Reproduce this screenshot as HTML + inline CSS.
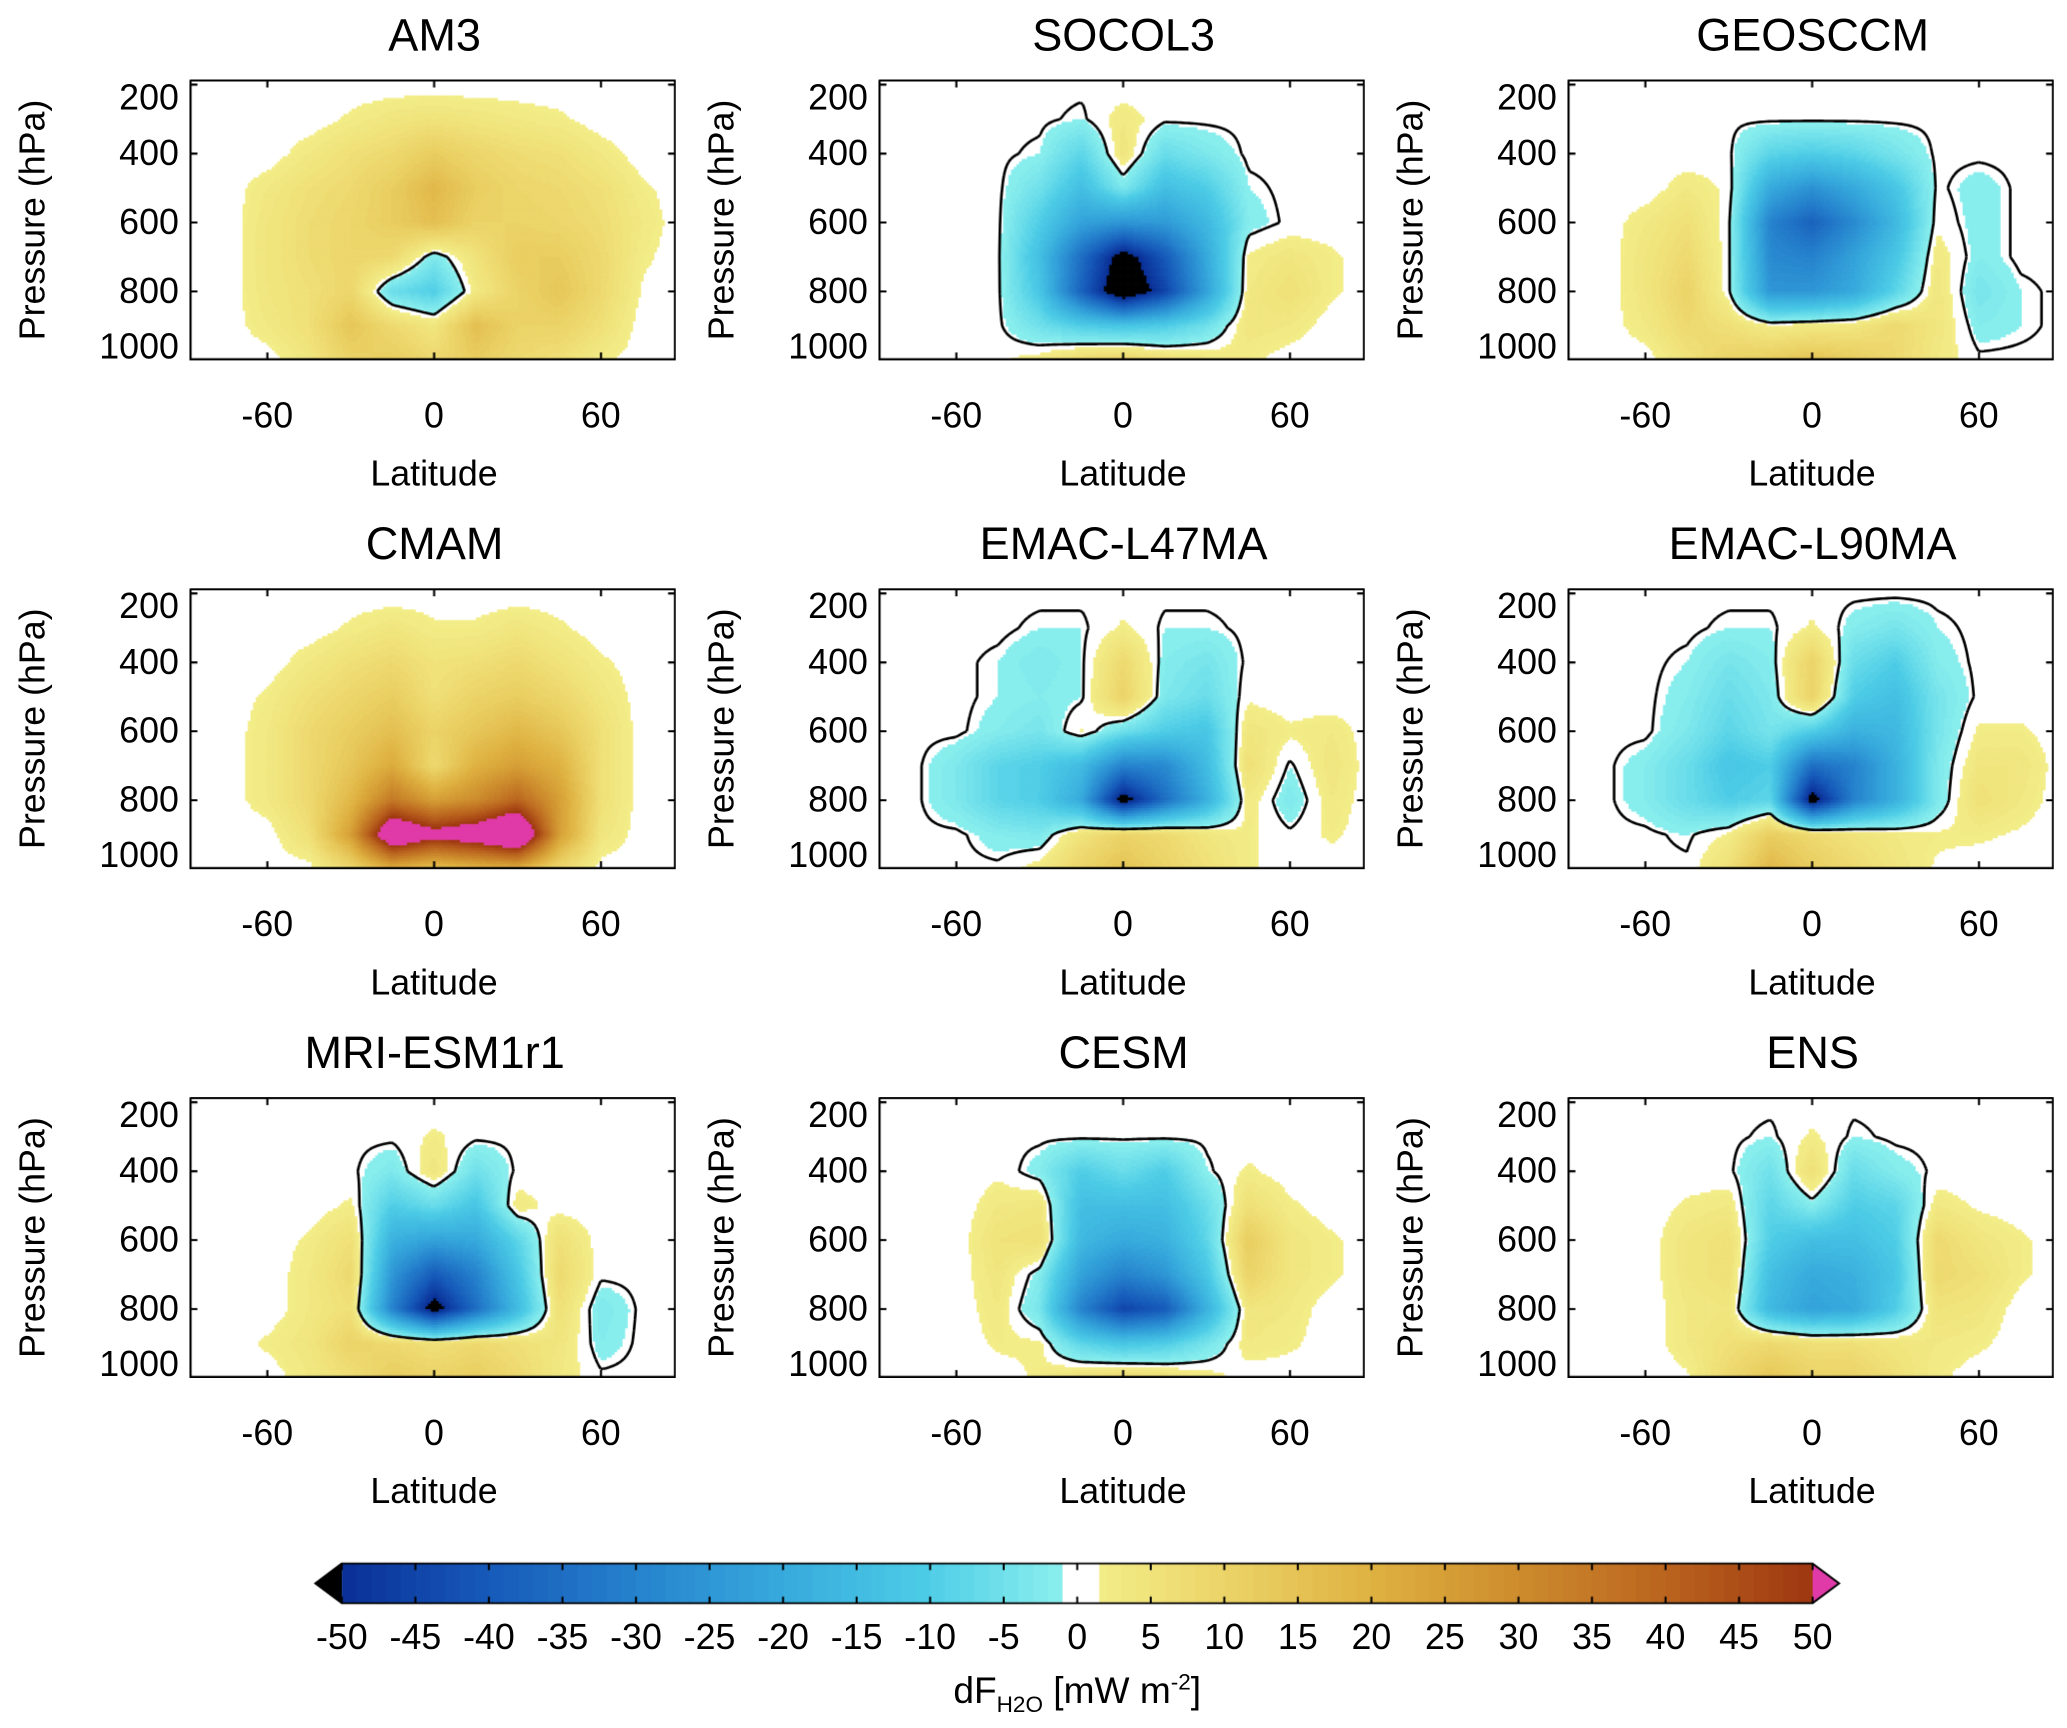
<!DOCTYPE html>
<html><head><meta charset="utf-8">
<style>
html,body{margin:0;padding:0;background:#fff;}
#root{position:absolute;left:0;top:0;width:1560px;height:1304px;transform:scale(1.325);transform-origin:0 0;font-family:"Liberation Sans",sans-serif;color:#000;}
.t{position:absolute;white-space:nowrap;line-height:1;}
canvas{position:absolute;}
</style></head><body>
<div id="root"></div>
<script>
// Grid definitions
const lats = [-90,-75,-60,-45,-30,-15,0,15,30,45,60,75,90];
const levels = [200,300,400,500,600,700,800,900,1000];
const xTicks = [-60,0,60];
const yTicks = [200,400,600,800,1000];
const cbTicks = [-50,-45,-40,-35,-30,-25,-20,-15,-10,-5,0,5,10,15,20,25,30,35,40,45,50];
const panelNames = ["AM3","SOCOL3","GEOSCCM","CMAM","EMAC-L47MA","EMAC-L90MA","MRI-ESM1r1","CESM","ENS"];
const fieldAM3 = [
[0,0,0,0,0,0,0,0,0,0,0,0,0],
[0,0,0,0,2,4,5,4,3,2,0,0,0],
[0,0,0,3,6,8,12,9,7,6,3,0,0],
[0,0,3,6,8,12,18,12,9,8,6,2,0],
[0,0,4,7,9,12,16,10,10,9,7,3,0],
[0,0,4,7,9,8,-3,5,12,12,8,2,0],
[0,0,4,6,9,-6,-10,3,10,14,8,1,0],
[0,0,3,6,14,8,4,16,10,10,6,0,0],
[0,0,0,4,10,12,8,12,8,6,2,0,0]];
const fieldSOCOL3 = [
[0,0,0,0,0,0,0,0,0,0,0,0,0],
[0,0,0,0,0,-1,3,0,0,0,0,0,0],
[0,0,0,0,-1,-8,4,-6,-3,0,0,0,0],
[0,0,0,0,-5,-14,-3,-14,-10,-1,0,0,0],
[0,0,0,0,-10,-22,-25,-24,-16,-2,0,0,0],
[0,0,0,0,-14,-35,-55,-40,-20,2,4,2,0],
[0,0,0,0,-12,-38,-60,-45,-22,3,6,2,0],
[0,0,0,0,-5,-10,-12,-10,-5,4,3,0,0],
[0,0,0,1,3,8,10,6,4,2,0,0,0]];
const fieldGEOSCCM = [
[0,0,0,0,0,0,0,0,0,0,0,0,0],
[0,0,0,0,0,0,0,0,0,0,0,0,0],
[0,0,0,0,0,-8,-10,-8,-4,0,0,0,0],
[0,0,0,3,1,-20,-26,-20,-12,0,-2,0,0],
[0,0,3,6,0,-30,-38,-28,-16,1,-2,0,0],
[0,0,4,8,0,-28,-30,-22,-12,3,-2,0,0],
[0,0,4,10,0,-25,-25,-20,-8,4,-4,-1,0],
[0,0,3,8,6,2,3,4,8,4,-2,-1,0],
[0,0,0,5,10,12,15,12,8,3,0,0,0]];
const fieldCMAM = [
[0,0,0,0,0,0,0,0,0,0,0,0,0],
[0,0,0,0,2,4,2,2,4,2,0,0,0],
[0,0,0,3,6,8,5,6,8,5,2,0,0],
[0,0,2,6,9,12,6,10,12,9,4,0,0],
[0,0,3,8,12,16,10,14,18,14,6,0,0],
[0,0,3,8,14,22,8,20,25,20,6,0,0],
[0,0,3,8,18,35,25,30,40,25,6,0,0],
[0,0,0,6,25,65,55,60,70,25,4,0,0],
[0,0,0,0,8,20,14,18,20,8,0,0,0]];
const fieldL47 = [
[0,0,0,0,0,0,0,0,0,0,0,0,0],
[0,0,0,0,-1,-1,2,-1,-1,0,0,0,0],
[0,0,0,-1,-3,-1,8,-2,-4,0,0,0,0],
[0,0,0,-1,-2,-1,10,-3,-6,1,0,0,0],
[0,0,0,-2,-4,2,-5,-10,-12,4,2,3,0],
[0,0,-3,-8,-10,-15,-30,-28,-15,6,-1,4,0],
[0,0,-3,-8,-10,-20,-55,-35,-18,3,-3,3,0],
[0,0,0,-2,-3,5,10,8,4,2,0,2,0],
[0,0,0,0,3,10,15,10,6,2,0,0,0]];
const fieldL90 = [
[0,0,0,0,0,0,0,0,0,0,0,0,0],
[0,0,0,0,-1,-1,2,-2,-4,-1,0,0,0],
[0,0,0,-1,-4,-2,10,-6,-10,-2,0,0,0],
[0,0,0,-2,-6,-3,10,-10,-14,-4,0,0,0],
[0,0,0,-3,-8,-4,-10,-18,-16,-4,2,2,0],
[0,0,-2,-6,-12,-10,-35,-30,-18,-3,4,4,0],
[0,0,-2,-6,-10,-8,-55,-30,-18,-3,6,3,0],
[0,0,0,-1,2,12,8,5,3,2,2,1,0],
[0,0,0,0,6,18,12,8,4,1,0,0,0]];
const fieldMRI = [
[0,0,0,0,0,0,0,0,0,0,0,0,0],
[0,0,0,0,0,0,2,0,0,0,0,0,0],
[0,0,0,0,0,-3,4,-5,0,0,0,0,0],
[0,0,0,0,2,-10,-6,-12,3,0,0,0,0],
[0,0,0,2,6,-18,-22,-20,-8,6,0,0,0],
[0,0,0,3,8,-25,-40,-30,-12,8,0,0,0],
[0,0,0,3,6,-30,-55,-35,-15,6,-3,0,0],
[0,0,2,4,10,8,6,8,6,4,-2,0,0],
[0,0,0,3,6,12,10,12,8,3,0,0,0]];
const fieldCESM = [
[0,0,0,0,0,0,0,0,0,0,0,0,0],
[0,0,0,0,0,0,0,0,0,0,0,0,0],
[0,0,0,1,-2,-10,-6,-10,-1,2,0,0,0],
[0,0,0,3,4,-14,-14,-14,-6,6,2,0,0],
[0,0,0,5,6,-16,-20,-18,-8,12,4,2,0],
[0,0,0,4,-2,-22,-30,-25,-12,10,4,2,0],
[0,0,0,3,-4,-30,-45,-40,-18,4,3,0,0],
[0,0,0,2,2,-8,-12,-10,-4,3,2,0,0],
[0,0,0,0,2,6,8,6,3,0,0,0,0]];
const fieldENS = [
[0,0,0,0,0,0,0,0,0,0,0,0,0],
[0,0,0,0,0,-1,2,-1,0,0,0,0,0],
[0,0,0,0,0,-5,6,-6,-2,0,0,0,0],
[0,0,0,2,3,-8,-2,-10,-8,3,1,0,0],
[0,0,0,4,6,-10,-14,-14,-10,8,4,2,0],
[0,0,0,4,6,-14,-20,-18,-12,8,6,2,0],
[0,0,0,3,4,-16,-22,-20,-10,5,4,0,0],
[0,0,0,3,6,8,6,6,4,3,2,0,0],
[0,0,0,1,8,14,10,10,6,2,0,0,0]];
const fields = [fieldAM3,fieldSOCOL3,fieldGEOSCCM,fieldCMAM,fieldL47,fieldL90,fieldMRI,fieldCESM,fieldENS];

const S = 1.325;
const root = document.getElementById('root');
const W = 367, H = 212, PTOP = 185, LATMIN = -88, LATMAX = 87;
function xScale(lat){ return (lat-LATMIN)/(LATMAX-LATMIN)*W; }
function yScale(p){ return (p-PTOP)/(1000-PTOP)*H; }

const negStops = ['#8ff2ee','#4ccbe6','#36a8dc','#2580cc','#1658b8','#0a2d94'];
const posStops = ['#f4f08c','#ebd266','#deb040','#cc8a2c','#b9621e','#9c3410'];
function hex(h){return [parseInt(h.substr(1,2),16),parseInt(h.substr(3,2),16),parseInt(h.substr(5,2),16)];}
function ramp(stops,t){
  t=Math.max(0,Math.min(1,t)); const n=stops.length-1; const i=Math.min(n-1,Math.floor(t*n)); const f=t*n-i;
  const a=hex(stops[i]),b=hex(stops[i+1]);
  return 'rgb('+a.map((v,k)=>Math.round(v+(b[k]-v)*f)).join(',')+')';
}
function color(v){
  if(v<-50) return '#000';
  if(v>50) return '#e03aa8';
  if(v>=-1 && v<1.5) return null;
  if(v<0) return ramp(negStops,(Math.floor(-v))/50);
  return ramp(posStops,(Math.floor(v))/50);
}
function sample(F,lat,p){
  let pi=(p-200)/100; pi=Math.max(0,Math.min(levels.length-1,pi));
  let li=(lat-lats[0])/15; li=Math.max(0,Math.min(lats.length-1,li));
  const i0=Math.min(levels.length-2,Math.floor(pi)), j0=Math.min(lats.length-2,Math.floor(li));
  const fy=pi-i0, fx=li-j0;
  const a=F[i0][j0],b=F[i0][j0+1],c=F[i0+1][j0],d=F[i0+1][j0+1];
  return a*(1-fx)*(1-fy)+b*fx*(1-fy)+c*(1-fx)*fy+d*fx*fy;
}
function addText(txt,x,y,size,anchor,name,rot){
  const d=document.createElement('div'); d.className='t'; d.textContent=txt;
  d.style.fontSize=size+'px';
  
  
  let tx = anchor==='middle'?'-50%':(anchor==='end'?'-100%':'0');
  d.style.left=x+'px'; d.style.top=y+'px';
  d.style.transform='translate('+tx+',-50%)';
  if(rot){d.style.transform='translate(-50%,-50%) rotate(-90deg)';}
  root.appendChild(d); return d;
}

panelNames.forEach((name,k)=>{
  const c=k%3, r=Math.floor(k/3);
  const bx=143+520*c, by=60+384*r;
  const F=fields[k];
  const cv=document.createElement('canvas');
  
  
  cv.width=Math.round(W*S); cv.height=Math.round(H*S);
  cv.style.left=bx+'px'; cv.style.top=by+'px'; cv.style.width=W+'px'; cv.style.height=H+'px';
  root.appendChild(cv);
  const ctx=cv.getContext('2d'); ctx.scale(S,S);
  const st=2; const nx=Math.ceil(W/st)+1, ny=Math.ceil(H/st)+1;
  const G=[];
  for(let j=0;j<ny;j++){const row=[];for(let i=0;i<nx;i++){
    const lat=LATMIN+(i*st)/W*(LATMAX-LATMIN); const p=PTOP+(j*st)/H*(1000-PTOP);
    row.push(sample(F,lat,p));} G.push(row);}
  for(let j=0;j<ny-1;j++)for(let i=0;i<nx-1;i++){
    const v=(G[j][i]+G[j][i+1]+G[j+1][i]+G[j+1][i+1])/4; const col=color(v);
    if(col){ctx.fillStyle=col;ctx.fillRect(i*st,j*st,st+0.6,st+0.6);}
  }
  const L=-0.5; ctx.strokeStyle='#000'; ctx.lineWidth=2; ctx.lineJoin='round'; ctx.beginPath();
  const interp=(x1,y1,v1,x2,y2,v2)=>{const t=(L-v1)/(v2-v1);return [x1+(x2-x1)*t,y1+(y2-y1)*t];};
  for(let j=0;j<ny-1;j++)for(let i=0;i<nx-1;i++){
    const x=i*st,y=j*st; const a=G[j][i],b=G[j][i+1],cc=G[j+1][i+1],d=G[j+1][i];
    const pts=[];
    if((a<L)!==(b<L)) pts.push(interp(x,y,a,x+st,y,b));
    if((b<L)!==(cc<L)) pts.push(interp(x+st,y,b,x+st,y+st,cc));
    if((cc<L)!==(d<L)) pts.push(interp(x+st,y+st,cc,x,y+st,d));
    if((d<L)!==(a<L)) pts.push(interp(x,y+st,d,x,y,a));
    for(let q=0;q+1<pts.length;q+=2){ctx.moveTo(pts[q][0],pts[q][1]);ctx.lineTo(pts[q+1][0],pts[q+1][1]);}
  }
  ctx.stroke();
  ctx.lineWidth=1.6; ctx.strokeRect(0.8,0.8,W-1.6,H-1.6);
  ctx.beginPath();
  xTicks.forEach(t=>{const x=xScale(t);ctx.moveTo(x,H);ctx.lineTo(x,H-6);ctx.moveTo(x,0);ctx.lineTo(x,6);});
  yTicks.forEach(t=>{const y=yScale(t);ctx.moveTo(0,y);ctx.lineTo(6,y);ctx.moveTo(W,y);ctx.lineTo(W-6,y);});
  ctx.stroke();
  addText(name,bx+185,by-33,34,'middle','panel-title-'+name.toLowerCase());
  yTicks.forEach(t=>{let y=by+yScale(t); y=Math.max(by+14,Math.min(by+202,y));
    addText(String(t),bx-8,y,27,'end','y-tick-label');});
  xTicks.forEach(t=>{addText(String(t),bx+xScale(t),by+254,27,'middle','x-tick-label');});
  addText('Pressure (hPa)',bx-118,by+106,27,'middle','y-axis-title',true);
  addText('Latitude',bx+xScale(0),by+298,27,'middle','x-axis-title');
});

// colorbar
const cbL=258, cbR=1368, cbT=1180, cbB=1210;
const cb=document.createElement('canvas');


cb.width=Math.round(1200*S); cb.height=Math.round(40*S);
cb.style.left='230px'; cb.style.top='1175px'; cb.style.width='1200px'; cb.style.height='40px';
root.appendChild(cb);
const cx=cb.getContext('2d'); cx.scale(S,S);
const ox=230, oy=1175;
const cbx=v=>cbL-ox+(v+50)/100*(cbR-cbL);
for(let v=-50;v<50;v+=0.5){const col=color(v+0.25)||'#fff';cx.fillStyle=col;cx.fillRect(cbx(v),cbT-oy,(cbR-cbL)/200+0.6,cbB-cbT);}
cx.fillStyle='#000';cx.beginPath();cx.moveTo(cbx(-50),cbT-oy);cx.lineTo(cbx(-50)-20,(cbT+cbB)/2-oy);cx.lineTo(cbx(-50),cbB-oy);cx.fill();
cx.fillStyle='#e03aa8';cx.beginPath();cx.moveTo(cbx(50),cbT-oy);cx.lineTo(cbx(50)+20,(cbT+cbB)/2-oy);cx.lineTo(cbx(50),cbB-oy);cx.closePath();cx.fill();
cx.strokeStyle='#000';cx.lineWidth=1.5;
cx.beginPath();cx.moveTo(cbx(-50),cbT-oy);cx.lineTo(cbx(-50)-20,(cbT+cbB)/2-oy);cx.lineTo(cbx(-50),cbB-oy);cx.lineTo(cbx(50),cbB-oy);cx.lineTo(cbx(50)+20,(cbT+cbB)/2-oy);cx.lineTo(cbx(50),cbT-oy);cx.closePath();cx.stroke();
cx.beginPath();cbTicks.forEach(t=>{const x=cbx(t);cx.moveTo(x,cbT-oy);cx.lineTo(x,cbT-oy+5);cx.moveTo(x,cbB-oy);cx.lineTo(x,cbB-oy-5);});cx.stroke();
cbTicks.forEach(t=>{addText(String(t),ox+cbx(t),1236,27,'middle','colorbar-tick-label');});
const lab=document.createElement('div'); lab.className='t';


lab.style.left='813px'; lab.style.top='1278px'; lab.style.fontSize='28px'; lab.style.transform='translate(-50%,-50%)';
lab.innerHTML='dF<sub style="font-size:17px">H2O</sub> [mW m<sup style="font-size:17px">-2</sup>]';
root.appendChild(lab);
</script>
</body></html>
